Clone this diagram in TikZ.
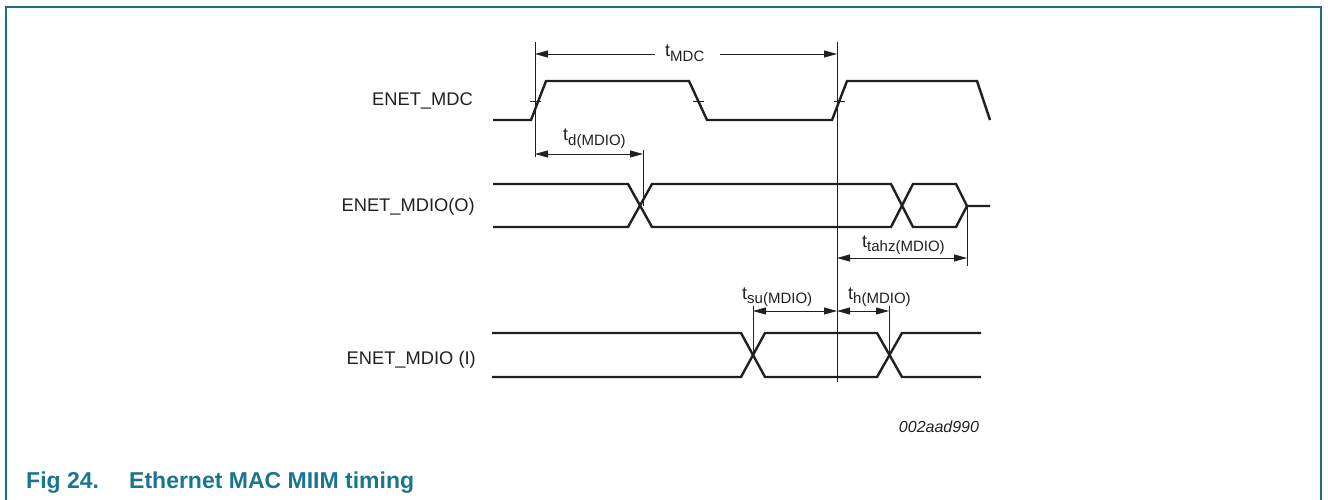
\documentclass[tikz,border=0pt]{standalone}
\usepackage{fontspec}
\setmainfont{Liberation Sans}
\usetikzlibrary{arrows.meta}
\definecolor{framecol}{HTML}{1F6F84}
\definecolor{capcol}{HTML}{1A7690}
\definecolor{ink}{HTML}{231F20}
\newcommand\subtxt[1]{\raisebox{-4.5pt}{\fontsize{15}{15}\selectfont #1}}
\begin{document}
\begin{tikzpicture}[x=1pt,y=-1pt,
  wave/.style={line width=2.4pt,line join=miter,ink},
  guide/.style={line width=0.9pt,ink},
  tip/.tip={Triangle[length=13pt,width=7pt]},
  dim/.style={line width=0.9pt,ink,tip-tip},
  dimr/.style={line width=0.9pt,ink,-tip},
  sig/.style={anchor=base east,inner sep=0pt,text=ink,font=\fontsize{18.3}{18}\selectfont},
  tlab/.style={anchor=base west,inner sep=0pt,text=ink,font=\fontsize{18}{18}\selectfont}]
\useasboundingbox (0,0) rectangle (1328,500);
% frame
\draw[framecol,line width=1.6pt] (6,500) -- (6,7) -- (1321,7) -- (1321,500);
% signal names
\node[sig] (lmdc) at (473,106) {ENET\_MDC};
\node[sig] (lmdo) at (475,211) {ENET\_MDIO(O)};
\node[sig] (lmdi) at (476,364) {ENET\_MDIO (I)};
% ENET_MDC waveform
\draw[wave] (493,120) -- (531,120) -- (546,81) -- (689,81) -- (707,120) -- (832,120) -- (847,81) -- (977,81) -- (990,120);
\draw[guide] (530,101.5) -- (541,101.5);
\draw[guide] (693,101.5) -- (704,101.5);
\draw[guide] (834,101.5) -- (845,101.5);
% ENET_MDIO(O)
\draw[wave] (493,184) -- (628,184) -- (652,227) -- (891,227) -- (913,184) -- (956,184) -- (967,206) -- (990,206);
\draw[wave] (493,227) -- (628,227) -- (652,184) -- (891,184) -- (913,227) -- (956,227) -- (967,206);
% ENET_MDIO (I)
\draw[wave] (492,333) -- (741,333) -- (765,377) -- (877,377) -- (902,333) -- (981,333);
\draw[wave] (492,377) -- (741,377) -- (765,333) -- (877,333) -- (902,377) -- (981,377);
% reference coordinates
\coordinate (r1t) at (535,42);
\coordinate (r1b) at (535,157);
\coordinate (r2t) at (837,42);
\coordinate (r2b) at (837,382);
\coordinate (r3t) at (643,150);
\coordinate (r3b) at (643,206);
\coordinate (r4t) at (967,206);
\coordinate (r4b) at (967,266);
\coordinate (r5t) at (753,306);
\coordinate (r5b) at (753,355);
\coordinate (r6t) at (889,306);
\coordinate (r6b) at (889,355);
\draw[guide] (r1t) -- (r1b);
\draw[guide] (r2t) -- (r2b);
\draw[guide] (r3t) -- (r3b);
\draw[guide] (r4t) -- (r4b);
\draw[guide] (r5t) -- (r5b);
\draw[guide] (r6t) -- (r6b);
% t_MDC
\node[tlab] (tmdc) at (665,57) {t\subtxt{MDC}};
\coordinate (m1) at (535,54);
\coordinate (m2) at (837,54);
\draw[dimr] (tmdc.west |- m1) ++(-10,0) -- (m1);
\draw[dimr] (tmdc.east |- m2) ++(15,0) -- (m2);
% t_d
\node[tlab] (td) at (563,141) {t\subtxt{d(MDIO)}};
\coordinate (d1) at (535,154);
\coordinate (d2) at (643,154);
\draw[dim] (d1) -- (d2);
% t_tahz
\node[tlab] (ttahz) at (862,247) {t\subtxt{tahz(MDIO)}};
\coordinate (z1) at (837,258);
\coordinate (z2) at (967,258);
\draw[dim] (z1) -- (z2);
% t_su
\node[tlab] (tsu) at (742,299) {t\subtxt{su(MDIO)}};
\coordinate (s1) at (753,311);
\coordinate (s2) at (837,311);
\draw[dim] (s1) -- (s2);
% t_h
\node[tlab] (th) at (848,299) {t\subtxt{h(MDIO)}};
\coordinate (h1) at (837,311);
\coordinate (h2) at (889,311);
\draw[dim] (h1) -- (h2);
% figure id
\node[anchor=base,inner sep=0pt,text=ink,font=\fontsize{16}{16}\selectfont\itshape] (fid) at (939,432) {002aad990};
% caption
\node[anchor=base west,inner sep=0pt,text=capcol,font=\fontsize{23}{23}\selectfont\bfseries] (fig) at (26,488) {Fig 24.};
\node[anchor=base west,inner sep=0pt,text=capcol,font=\fontsize{23}{23}\selectfont\bfseries] (cap) at (129,488) {Ethernet MAC MIIM timing};
\end{tikzpicture}
\end{document}
